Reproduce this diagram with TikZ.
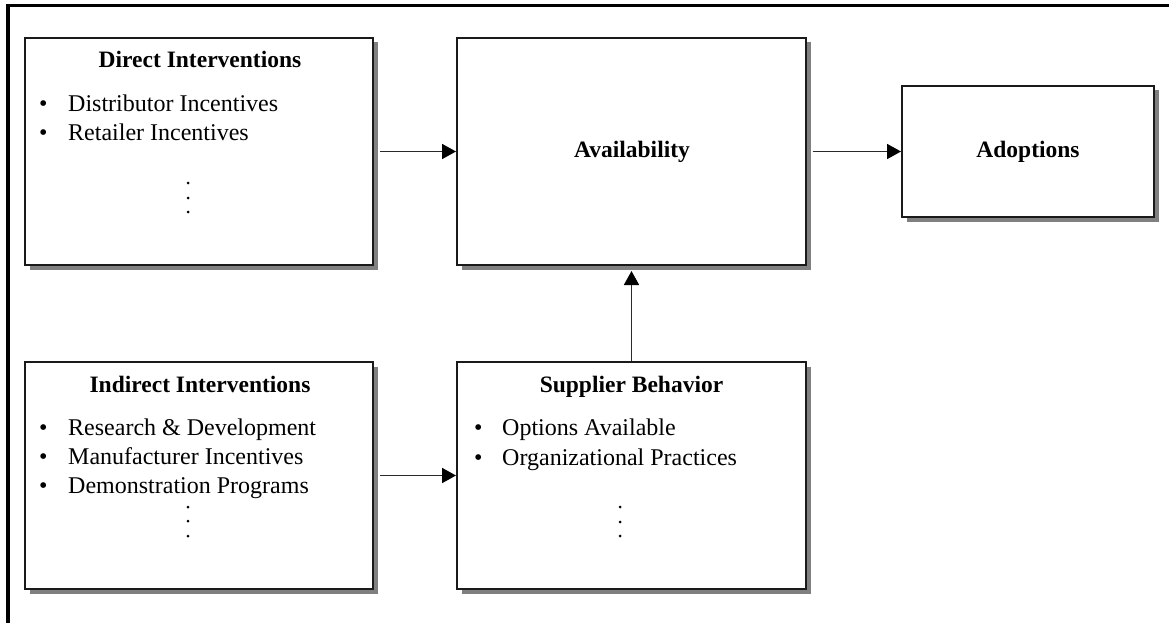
\documentclass[tikz,border=0pt]{standalone}
\usepackage{fontspec}
\setmainfont{Liberation Serif}
\usetikzlibrary{arrows.meta,shadows}
\definecolor{boxline}{HTML}{1A1A1A}
\definecolor{arrline}{HTML}{2A2A2A}
\definecolor{shadowgray}{HTML}{808080}
\tikzset{
  box/.style={draw=boxline, line width=2pt, fill=white, inner sep=0pt,
    drop shadow={shadow xshift=4.5pt, shadow yshift=-4.5pt, fill=shadowgray, opacity=1}},
  ttl/.style={font=\fontsize{23.5}{28}\selectfont\bfseries, inner sep=0pt},
  itm/.style={font=\fontsize{24}{28}\selectfont, inner sep=0pt, anchor=base west},
  dotc/.style={fill=black, draw=none, circle, inner sep=0pt, minimum size=3pt},
  conn/.style={draw=arrline, line width=1.8pt, -{Triangle[length=14pt,width=15pt,color=black]}},
}
\begin{document}
\begin{tikzpicture}[x=1pt,y=-1pt]
\useasboundingbox (0,0) rectangle (1169,623);
% frame (top and left only)
\draw[line width=3.5pt, black] (8,623) -- (8,5.5) -- (1169,5.5);

% boxes
\node[box, minimum width=348pt, minimum height=227pt] (direct) at (199,151.5) {};
\node[box, minimum width=349pt, minimum height=227pt] (avail) at (631.5,151.5) {};
\node[box, minimum width=252pt, minimum height=131pt] (adopt) at (1028,151.5) {};
\node[box, minimum width=348pt, minimum height=227pt] (indirect) at (199,475.5) {};
\node[box, minimum width=349pt, minimum height=227pt] (supp) at (631.5,475.5) {};

% Direct Interventions
\node[ttl, anchor=base] (dtitle) at (200,68) {Direct Interventions};
\node[itm] (db1) at (39,112) {•};
\node[itm] (dt1) at (68,112) {Distributor Incentives};
\node[itm] (db2) at (39,140) {•};
\node[itm] (dt2) at (68,140) {Retailer Incentives};
\node[dotc] (dd1) at (188,183) {};
\node[dotc] (dd2) at (188,198) {};
\node[dotc] (dd3) at (188,212) {};

% Availability / Adoptions
\node[ttl] (atitle) at (632,152) {Availability};
\node[ttl] (adtitle) at (1028,152) {Adoptions};

% Indirect Interventions
\node[ttl, anchor=base] (ititle) at (200,392) {Indirect Interventions};
\node[itm] (ib1) at (39,435) {•};
\node[itm] (it1) at (68,435) {Research \& Development};
\node[itm] (ib2) at (39,464) {•};
\node[itm] (it2) at (68,464) {Manufacturer Incentives};
\node[itm] (ib3) at (39,493) {•};
\node[itm] (it3) at (68,493) {Demonstration Programs};
\node[dotc] (id1) at (188,507) {};
\node[dotc] (id2) at (188,521) {};
\node[dotc] (id3) at (188,536) {};

% Supplier Behavior
\node[ttl, anchor=base] (stitle) at (631.5,392) {Supplier Behavior};
\node[itm] (sb1) at (474,435) {•};
\node[itm] (st1) at (502,435) {Options Available};
\node[itm] (sb2) at (474,465) {•};
\node[itm] (st2) at (502,465) {Organizational Practices};
\node[dotc] (sd1) at (620,507) {};
\node[dotc] (sd2) at (620,522) {};
\node[dotc] (sd3) at (620,536) {};

% connectors
\draw[conn, shorten <=5.5pt] (direct.east) -- (avail.west);
\draw[conn, shorten <=5.5pt] (avail.east) -- (adopt.west);
\draw[conn, shorten <=5.5pt] (indirect.east) -- (supp.west);
\draw[conn, shorten >=5pt] (supp.north) -- (avail.south);
\end{tikzpicture}
\end{document}
